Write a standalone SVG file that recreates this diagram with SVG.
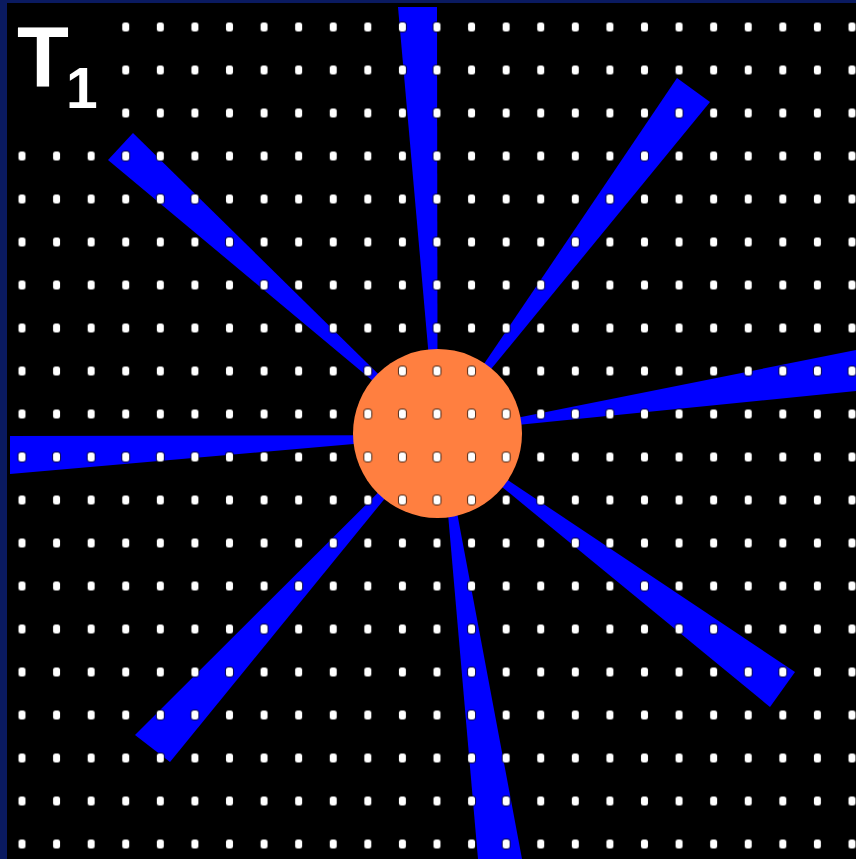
<svg xmlns="http://www.w3.org/2000/svg" width="856" height="859" viewBox="0 0 856 859">
  <style>
    .ray { fill: #0000ff; }
    .label { fill: #ffffff; font-family: "Liberation Sans", Arial, sans-serif; font-weight: bold; }
  </style>
  <defs>
    <pattern id="dots" patternUnits="userSpaceOnUse" x="4.71" y="5.5" width="34.583" height="43">
      <rect x="12.79" y="16" width="9" height="11" rx="4" fill="#000000" fill-opacity="0.7"/>
      <rect x="13.79" y="17" width="7" height="9" rx="2.5" fill="#ffffff"/>
    </pattern>
  </defs>

  <!-- frame -->
  <rect x="0" y="0" width="856" height="859" fill="#0a1a60"/>
  <rect x="7" y="3" width="849" height="856" fill="#000000"/>

  <!-- rays -->
  <g id="rays">
    <polygon id="ray-n" class="ray" points="398,7 437,7 437.5,370 430,370"/>
    <polygon id="ray-ne" class="ray" points="677,78 710,102 485.6,375.8 479.2,371"/>
    <polygon id="ray-e" class="ray" points="856,350 856,391 512.2,425.4 511.2,419.1"/>
    <polygon id="ray-se" class="ray" points="795,672 770,707 495.3,481.4 500.1,475"/>
    <polygon id="ray-s" class="ray" points="478,859 522,859 456,507 447.5,508"/>
    <polygon id="ray-sw" class="ray" points="135,735 170,762 390.2,491.9 384.2,486.5"/>
    <polygon id="ray-w" class="ray" points="10,436 10,474 365,443 365,435.3"/>
    <polygon id="ray-nw" class="ray" points="133,133 108,160 379.2,386.2 384.6,380.2"/>
  </g>

  <!-- central disc -->
  <g id="core">
    <circle cx="437.5" cy="433.5" r="84.5" fill="#ff7f40"/>
  </g>

  <!-- dot grid -->
  <g id="grid">
    <rect x="7" y="3" width="849" height="856" fill="url(#dots)"/>
    <rect x="7" y="3" width="100" height="130" fill="#000000"/>
  </g>

  <!-- label -->
  <g id="label">
    <text class="label" x="17" y="86" font-size="85">T</text>
    <text class="label" x="66" y="108" font-size="57">1</text>
  </g>
</svg>
